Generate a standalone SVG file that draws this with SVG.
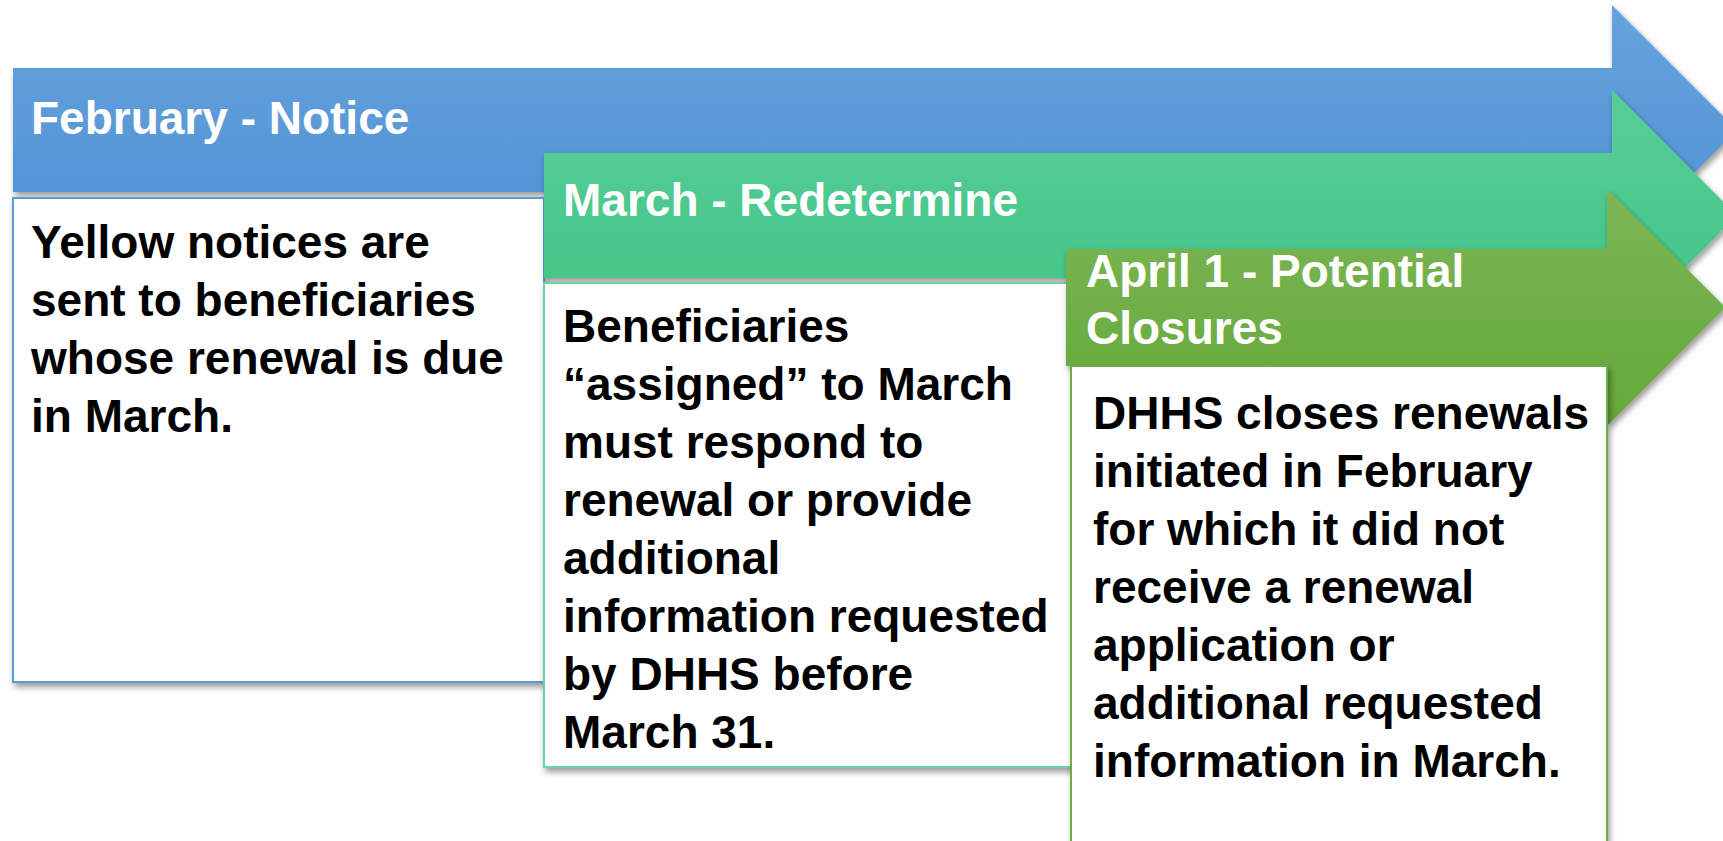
<svg xmlns="http://www.w3.org/2000/svg" width="1723" height="841" viewBox="0 0 1723 841">
<defs>
<linearGradient id="gBlue" x1="0" y1="0" x2="0" y2="1"><stop offset="0" stop-color="#67A3DD"/><stop offset="1" stop-color="#4D90D3"/></linearGradient>
<linearGradient id="gTeal" x1="0" y1="0" x2="0" y2="1"><stop offset="0" stop-color="#58CE96"/><stop offset="1" stop-color="#40C386"/></linearGradient>
<linearGradient id="gGreen" x1="0" y1="0" x2="0" y2="1"><stop offset="0" stop-color="#7CB655"/><stop offset="1" stop-color="#64A83A"/></linearGradient>
<filter id="sh" x="-5%" y="-5%" width="115%" height="120%"><feDropShadow dx="2" dy="4" stdDeviation="3" flood-color="#000" flood-opacity="0.4"/></filter>
</defs>
<style>
.hd{font-family:"Liberation Sans",Arial,sans-serif;font-weight:bold;font-size:46px;fill:#FFFFFF}
.bd{font-family:"Liberation Sans",Arial,sans-serif;font-weight:bold;font-size:46px;fill:#000000}
.box{fill:#FFFFFF;stroke-width:2;filter:url(#sh)}
.arr{filter:url(#sh)}
</style>
<rect width="1723" height="841" fill="#FFFFFF"/>
<g id="node-february">
<path class="arr" d="M13,68 H1612 V5 L1737,130 L1612,255 V192 H13 Z" fill="url(#gBlue)"/>
<text class="hd" x="31" y="134">February - Notice</text>
<rect class="box" x="13" y="198" width="531" height="484" stroke="#5B9BD5"/>
<text class="bd" x="31" y="258">Yellow notices are</text>
<text class="bd" x="31" y="316">sent to beneficiaries</text>
<text class="bd" x="31" y="374">whose renewal is due</text>
<text class="bd" x="31" y="432">in March.</text>
</g>
<g id="node-march">
<path class="arr" d="M544,153 H1612 V90 L1737,215.5 L1612,341 V278 H544 Z" fill="url(#gTeal)"/>
<text class="hd" x="563" y="216">March - Redetermine</text>
<rect class="box" x="544" y="283" width="531" height="484" stroke="#6DD3A3"/>
<text class="bd" x="563" y="342">Beneficiaries</text>
<text class="bd" x="563" y="400">“assigned” to March</text>
<text class="bd" x="563" y="458">must respond to</text>
<text class="bd" x="563" y="516">renewal or provide</text>
<text class="bd" x="563" y="574">additional</text>
<text class="bd" x="563" y="632">information requested</text>
<text class="bd" x="563" y="690">by DHHS before</text>
<text class="bd" x="563" y="748">March 31.</text>
</g>
<g id="node-april">
<path class="arr" d="M1066,249 H1607 V189 L1725.5,307.5 L1607,426 V366 H1066 Z" fill="url(#gGreen)"/>
<text class="hd" x="1086" y="287">April 1 - Potential</text>
<text class="hd" x="1086" y="344">Closures</text>
<rect class="box" x="1071" y="366" width="536" height="490" stroke="#70AD47"/>
<text class="bd" x="1093" y="429">DHHS closes renewals</text>
<text class="bd" x="1093" y="487">initiated in February</text>
<text class="bd" x="1093" y="545">for which it did not</text>
<text class="bd" x="1093" y="603">receive a renewal</text>
<text class="bd" x="1093" y="661">application or</text>
<text class="bd" x="1093" y="719">additional requested</text>
<text class="bd" x="1093" y="777">information in March.</text>
</g>
<g id="connectors"/>
</svg>
